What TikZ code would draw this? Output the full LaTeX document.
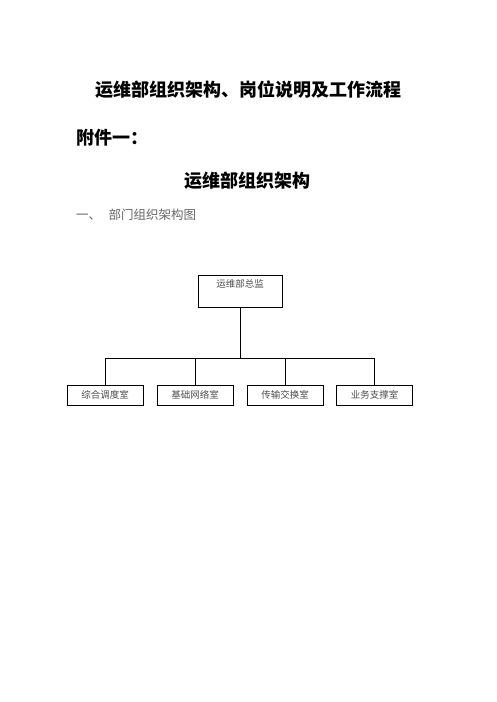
\documentclass[tikz,border=0pt]{standalone}
\usepackage{fontspec}
\newfontfamily\cjk{Noto Sans CJK SC}
\usetikzlibrary{positioning}
\begin{document}
\begin{tikzpicture}[x=1pt, y=-1pt,
  title/.style={font=\cjk\bfseries\fontsize{18}{20}\selectfont, inner sep=0pt},
  subtitle/.style={font=\cjk\fontsize{12.5}{14}\selectfont, text=black!60, inner sep=0pt},
  boxtext/.style={font=\cjk\fontsize{9.5}{11}\selectfont, text=black!70, inner sep=0pt},
  headbox/.style={draw, line width=0.8pt, minimum width=84pt, minimum height=32pt, inner sep=0pt},
  deptbox/.style={draw, line width=0.8pt, minimum width=76pt, minimum height=20pt, inner sep=0pt, boxtext},
  link/.style={line width=0.8pt}]
\useasboundingbox (0,0) rectangle (496,702);
% titles
\node[title] (maintitle) at (248,90) {运维部组织架构、岗位说明及工作流程};
\node[title, anchor=west] (annex) at (76,138) {附件一：};
\node[title] (orgtitle) at (247,181) {运维部组织架构};
\node[subtitle, anchor=west] (section) at (76,215) {一、\hspace{0.6em}部门组织架构图};
% chart
\node[headbox] (head) at (240,291) {};
\node[boxtext, below=5pt of head.north] (headtext) {运维部总监};
\node[deptbox] (d1) at (105,395) {综合调度室};
\node[deptbox] (d2) at (195,395) {基础网络室};
\node[deptbox] (d3) at (285,395) {传输交换室};
\node[deptbox] (d4) at (374.5,395) {业务支撑室};
\coordinate (bus) at (240,358);
\draw[link] (head.south) -- (bus);
\draw[link] (d1.north |- bus) -- (d4.north |- bus);
\foreach \d in {d1,d2,d3,d4}
  \draw[link] (\d.north |- bus) -- (\d.north);
\end{tikzpicture}
\end{document}
